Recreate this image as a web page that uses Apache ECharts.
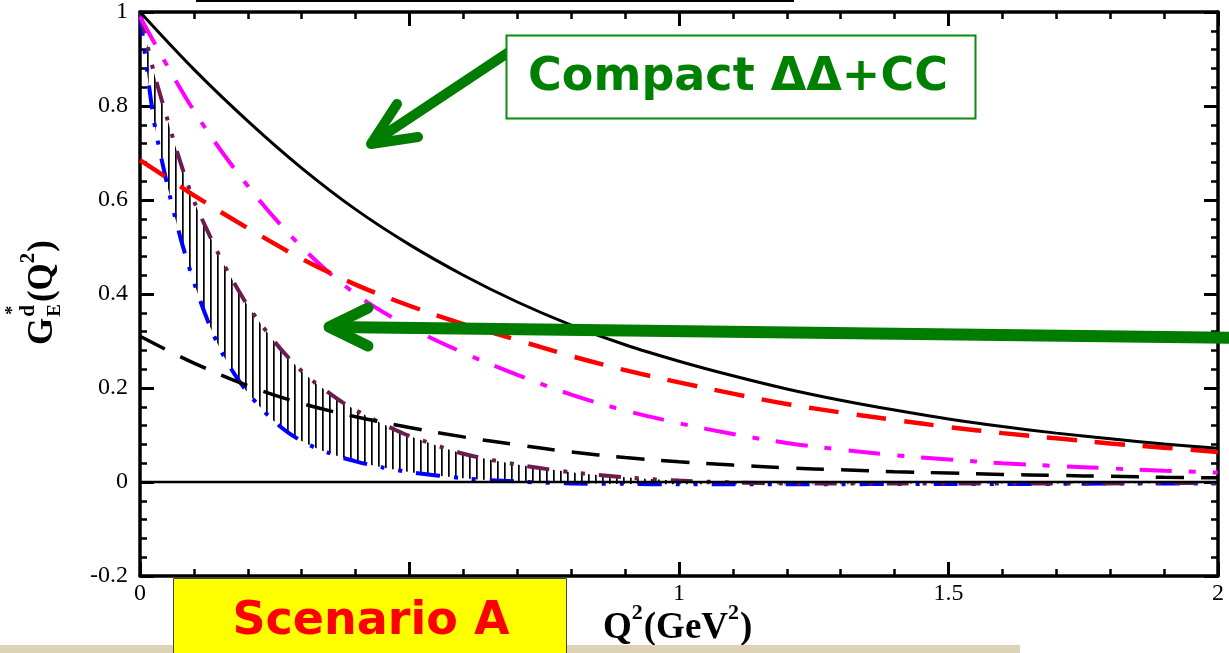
<!DOCTYPE html>
<html>
<head>
<meta charset="utf-8">
<script src="https://cdn.jsdelivr.net/npm/echarts@6/dist/echarts.min.js"></script>
<style>
  html, body { margin: 0; padding: 0; background: #ffffff; }
  #chart { width: 1229px; height: 653px; }
</style>
</head>
<body>
<div id="chart"></div>
<script>
// Q^2 grid (GeV^2) shared by the four model curves
const q2Grid = [0, 0.1, 0.2, 0.3, 0.4, 0.5, 0.6, 0.7, 0.8, 0.9, 1.0, 1.1, 1.2, 1.3, 1.4, 1.5, 1.6, 1.7, 1.8, 1.9, 2.0];
// compact ΔΔ+CC, solid black
const gSolid = [1.0, 0.878, 0.768, 0.668, 0.58, 0.505, 0.44, 0.383, 0.334, 0.292, 0.257, 0.226, 0.198, 0.174, 0.153, 0.134, 0.118, 0.104, 0.092, 0.081, 0.072];
// red dashed
const gRedDash = [0.685, 0.61, 0.54, 0.475, 0.42, 0.375, 0.336, 0.302, 0.268, 0.238, 0.212, 0.188, 0.166, 0.148, 0.132, 0.117, 0.104, 0.093, 0.082, 0.073, 0.064];
// magenta dash-dot
const gMagenta = [0.99, 0.79, 0.63, 0.50, 0.40, 0.33, 0.275, 0.228, 0.186, 0.152, 0.125, 0.102, 0.083, 0.069, 0.057, 0.048, 0.04, 0.034, 0.029, 0.024, 0.02];
// black dashed
const gBlackDash = [0.31, 0.253, 0.205, 0.167, 0.139, 0.116, 0.096, 0.079, 0.064, 0.052, 0.043, 0.036, 0.03, 0.026, 0.022, 0.019, 0.016, 0.014, 0.012, 0.01, 0.009];

// Hatched band: lower (blue) and upper (purple) edges on a finer grid
const q2Band = [0, 0.025, 0.05, 0.075, 0.1, 0.125, 0.15, 0.175, 0.2, 0.225, 0.25, 0.275, 0.3, 0.325, 0.35, 0.375, 0.4, 0.425, 0.45, 0.475, 0.5,
                0.6, 0.7, 0.8, 0.9, 1.0, 1.1, 1.2, 1.3, 1.4, 1.5, 1.6, 1.7, 1.8, 1.9, 2.0];
const gBandLow = [1.0, 0.775, 0.635, 0.52, 0.425, 0.345, 0.28, 0.23, 0.19, 0.157, 0.128, 0.105, 0.087, 0.073, 0.062, 0.052, 0.044, 0.037, 0.031, 0.026, 0.021,
                  0.008, 0.001, -0.003, -0.004, -0.005, -0.005, -0.005, -0.005, -0.004, -0.004, -0.004, -0.004, -0.003, -0.003, -0.003];
const gBandHigh = [1.0, 0.875, 0.775, 0.68, 0.598, 0.535, 0.475, 0.423, 0.375, 0.335, 0.298, 0.265, 0.236, 0.211, 0.19, 0.17, 0.153, 0.138, 0.124, 0.11, 0.098,
                   0.06, 0.037, 0.021, 0.01, 0.003, -0.001, -0.003, -0.003, -0.003, -0.003, -0.003, -0.003, -0.003, -0.002, -0.002];

// zero reference line
const q2Zero = [0, 2];
const gZero = [0, 0];

// axis ranges and tick steps
const xRange = [0, 2], xStep = 0.5;
const yRange = [-0.2, 1], yStep = 0.2;

const pair = (xs, ys) => xs.map((x, i) => [x, ys[i]]);
// band rows are stored as [value, Q^2] so that the value column is the one stacked
const bandRows = (xs, ys) => xs.map((x, i) => [ys[i], x]);
const bandWidth = gBandHigh.map((v, i) => v - gBandLow[i]);

// vertical-line hatch used to fill the band
function hatchPattern() {
  const c = document.createElement('canvas');
  c.width = 7; c.height = 16;
  const ctx = c.getContext('2d');
  ctx.fillStyle = '#000000';
  ctx.fillRect(0, 0, 1.7, 16);
  return c;
}

const serif = '"Liberation Serif", "DejaVu Serif", serif';
const round = '"DejaVu Sans", "Noto Sans", sans-serif';
const fmt = v => String(+(+v).toFixed(2));

// text measuring for titles with super/subscripts
const measureCtx = document.createElement('canvas').getContext('2d');
const boldSerif = size => 'bold ' + size + 'px ' + serif;
function textWidth(t, size) { measureCtx.font = boldSerif(size); return measureCtx.measureText(t).width; }
// one glyph run placed with its baseline at `base` (raised by `rise`)
function glyph(t, x, base, size, rise) {
  return {
    type: 'text', x, y: base - (rise || 0) - 0.34 * size,
    style: { text: t, fill: '#000', font: boldSerif(size), align: 'left', verticalAlign: 'middle', textAlign: 'left', textVerticalAlign: 'middle' }
  };
}
// sequence of runs laid out left to right
function run(parts, x0, base) {
  let x = x0;
  return parts.map(p => {
    const el = glyph(p.t, x, base, p.size, p.rise);
    x += textWidth(p.t, p.size) + (p.gap || 0);
    return el;
  });
}

// x axis title Q^2(GeV^2)
const xTitle = run([
  { t: 'Q', size: 37 }, { t: '2', size: 22, rise: 20, gap: 1 },
  { t: '(GeV', size: 37 }, { t: '2', size: 22, rise: 20, gap: 1 }, { t: ')', size: 37 }
], 603, 641);

// y axis title G_E^{d*}(Q^2), built in a local frame that is rotated afterwards
function yTitleParts() {
  const main = 35, small = 21;
  const x0 = -51, base = 8;
  const parts = [glyph('G', x0, base, main)];
  const xs = x0 + textWidth('G', main) + 1;
  parts.push(glyph('d', xs, base, small, 19));
  parts.push(glyph('*', xs + 2, base, 18, 36));
  parts.push(glyph('E', xs, base, small - 2, -7));
  const xr = xs + Math.max(textWidth('d', small), textWidth('E', small - 2)) + 2;
  return parts.concat(run([
    { t: '(Q', size: main }, { t: '2', size: small, rise: 19, gap: 1 }, { t: ')', size: main }
  ], xr, base));
}

const tickCommon = {
  axisLine: { show: true, onZero: false, lineStyle: { color: '#000', width: 3.5 } },
  axisTick: { show: true, inside: true, length: 14, lineStyle: { color: '#000', width: 3 } },
  minorTick: { show: true, splitNumber: 5, length: 7, lineStyle: { color: '#000', width: 2.5 } },
  splitLine: { show: false },
  minorSplitLine: { show: false }
};

function lineSeries(name, data, color, width, type, extra) {
  return Object.assign({
    name, type: 'line', data, smooth: 0.35, symbol: 'none',
    lineStyle: { color, width, type, cap: 'butt' },
    emphasis: { disabled: true }, silent: true, animation: false
  }, extra || {});
}

const chart = echarts.init(document.getElementById('chart'), null, { renderer: 'canvas' });

const option = {
  backgroundColor: '#ffffff',
  animation: false,
  grid: { left: 140, right: 11, top: 12, bottom: 77 },
  xAxis: [
    Object.assign({
      type: 'value', position: 'bottom', min: xRange[0], max: xRange[1], interval: xStep,
      axisLabel: { show: true, color: '#000', fontFamily: serif, fontSize: 24, margin: 6, formatter: fmt }
    }, tickCommon),
    Object.assign({
      type: 'value', position: 'top', min: xRange[0], max: xRange[1], interval: xStep,
      axisLabel: { show: false }
    }, tickCommon)
  ],
  yAxis: [
    Object.assign({
      type: 'value', position: 'left', min: yRange[0], max: yRange[1], interval: yStep,
      axisLabel: { show: true, color: '#000', fontFamily: serif, fontSize: 24, margin: 12, formatter: fmt }
    }, tickCommon),
    Object.assign({
      type: 'value', position: 'right', min: yRange[0], max: yRange[1], interval: yStep,
      axisLabel: { show: false }
    }, tickCommon)
  ],
  series: [
    lineSeries('bandLow', bandRows(q2Band, gBandLow), '#0000ff', 4, [24, 14, 4, 14, 4, 14], {
      stack: 'band', stackStrategy: 'all', smooth: 0.3, encode: { x: 1, y: 0 }
    }),
    lineSeries('bandHigh', bandRows(q2Band, bandWidth), '#6b1d4f', 4, [22, 14, 4, 14, 4, 14], {
      stack: 'band', stackStrategy: 'all', smooth: 0.3, encode: { x: 1, y: 0 },
      areaStyle: { color: { image: hatchPattern(), repeat: 'repeat' }, opacity: 1 }
    }),
    lineSeries('zero', pair(q2Zero, gZero), '#000000', 2.5, 'solid', { smooth: false }),
    lineSeries('blackDash', pair(q2Grid, gBlackDash), '#000000', 3.5, [28, 17]),
    lineSeries('magenta', pair(q2Grid, gMagenta), '#ff00ff', 4, [32, 17, 7, 17]),
    lineSeries('redDash', pair(q2Grid, gRedDash), '#ff0000', 4.5, [30, 18]),
    lineSeries('compact', pair(q2Grid, gSolid), '#000000', 3, 'solid')
  ],
  graphic: [
    // frame edge at the very top
    { type: 'line', z: 50, shape: { x1: 196, y1: 1, x2: 794, y2: 1 }, style: { stroke: '#000', lineWidth: 2 } },
    // beige strip along the bottom
    { type: 'rect', z: 50, shape: { x: 0, y: 645, width: 1020, height: 8 }, style: { fill: '#ddd4b8' } },
    // Scenario A label
    { type: 'rect', z: 60, shape: { x: 173.5, y: 578.5, width: 393, height: 80 }, style: { fill: '#ffff00', stroke: '#444', lineWidth: 1 } },
    { type: 'text', z: 61, x: 371, y: 622, style: { text: 'Scenario A', fill: '#ff0000', font: 'bold 46px ' + round, align: 'center', verticalAlign: 'middle', textAlign: 'center', textVerticalAlign: 'middle' } },
    // upper arrow towards the solid curve
    { type: 'polyline', z: 55, shape: { points: [[512, 50], [372, 143]] }, style: { stroke: '#007d00', lineWidth: 10, lineCap: 'round', fill: null } },
    { type: 'polyline', z: 55, shape: { points: [[397, 104], [371, 144], [418, 137]] }, style: { stroke: '#007d00', lineWidth: 10, lineCap: 'round', lineJoin: 'round', fill: null } },
    // Compact ΔΔ+CC box
    { type: 'rect', z: 60, shape: { x: 506.5, y: 35.5, width: 469, height: 83 }, style: { fill: '#ffffff', stroke: '#0b8a0b', lineWidth: 2 } },
    { type: 'text', z: 61, x: 738, y: 78, style: { text: 'Compact ΔΔ+CC', fill: '#008000', font: 'bold 46px ' + round, align: 'center', verticalAlign: 'middle', textAlign: 'center', textVerticalAlign: 'middle' } },
    // long arrow towards the band
    { type: 'polyline', z: 55, shape: { points: [[1240, 338], [333, 327]] }, style: { stroke: '#007d00', lineWidth: 12, lineCap: 'butt', fill: null } },
    { type: 'polyline', z: 55, shape: { points: [[368, 308], [329, 327], [368, 346]] }, style: { stroke: '#007d00', lineWidth: 11, lineCap: 'round', lineJoin: 'round', fill: null } },
    // x axis title
    { type: 'group', z: 61, x: 0, y: 0, children: xTitle },
    // y axis title, rotated to read upwards
    { type: 'group', z: 61, x: 47, y: 294, rotation: Math.PI / 2, children: yTitleParts() }
  ]
};

chart.setOption(option);
</script>
</body>
</html>
